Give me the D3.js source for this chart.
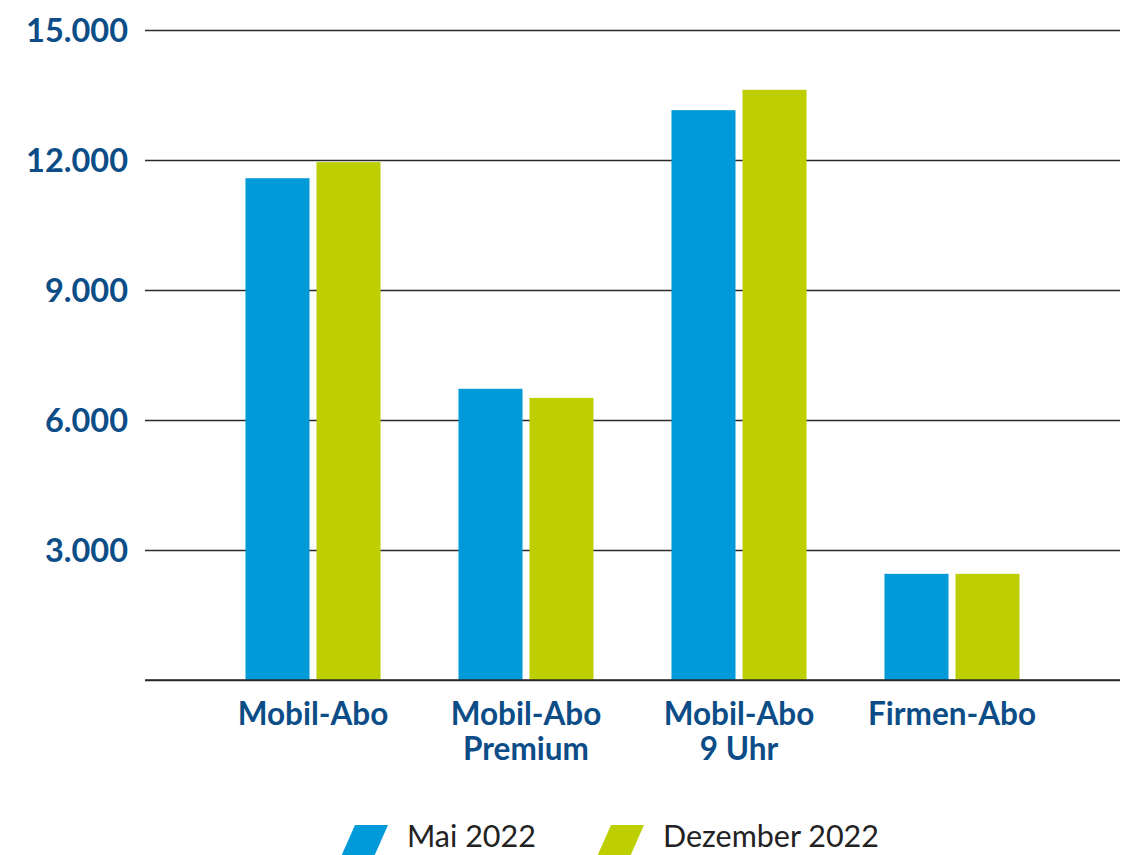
<!DOCTYPE html>
<html>
<head>
<meta charset="utf-8">
<script src="https://cdn.jsdelivr.net/npm/d3@7"></script>
<style>
  html, body { margin: 0; padding: 0; background: #fff; }
  svg { display: block; }
</style>
</head>
<body>
<svg id="chart" width="1138" height="855"></svg>
<script>
// Abo-Kategorien und Werte je Stichtag
const categories = ["Mobil-Abo", "Mobil-Abo Premium", "Mobil-Abo 9 Uhr", "Firmen-Abo"];
const categoryLines = [["Mobil-Abo"], ["Mobil-Abo", "Premium"], ["Mobil-Abo", "9 Uhr"], ["Firmen-Abo"]];
const seriesNames = ["Mai 2022", "Dezember 2022"];
const mai2022 = [11580, 6720, 13150, 2450];
const dezember2022 = [11950, 6510, 13620, 2450];
const yTicks = [0, 3000, 6000, 9000, 12000, 15000];

const colors = ["#009ad9", "#bdcf00"];
const labelBlue = "#0c4d87";

const svg = d3.select("#chart");

const y = d3.scaleLinear().domain([0, 15000]).range([680, 30]);
const x0 = d3.scaleBand().domain(categories).range([206.5, 1058.5])
  .paddingInner(0.366).paddingOuter(0.183);
const x1 = d3.scaleBand().domain(seriesNames).range([0, x0.bandwidth()])
  .paddingInner(0.0986);

const fmt = d => d === 0 ? "" : d3.format(",")(d).replace(/,/g, ".");

// Gitterlinien und Y-Achsenbeschriftung
const yAxis = svg.append("g")
  .attr("transform", "translate(145,0)")
  .call(d3.axisLeft(y).tickValues(yTicks).tickSize(-975).tickPadding(17).tickFormat(fmt));
yAxis.select(".domain").remove();
yAxis.selectAll(".tick line").attr("stroke", "#2a2a2a").attr("stroke-width", 1.3);
yAxis.selectAll(".tick text")
  .attr("fill", labelBlue)
  .attr("font-family", "Lato, sans-serif")
  .attr("font-weight", 700)
  .attr("font-size", 32.5)
  .attr("dy", "0.34em");

// Balken
const rows = categories.map((c, i) => ({ cat: c, values: [mai2022[i], dezember2022[i]] }));
const groups = svg.append("g").selectAll("g").data(rows).join("g")
  .attr("transform", d => `translate(${x0(d.cat)},0)`);
groups.selectAll("rect")
  .data(d => d.values.map((v, j) => ({ key: seriesNames[j], value: v, j })))
  .join("rect")
  .attr("x", d => x1(d.key))
  .attr("width", x1.bandwidth())
  .attr("y", d => y(d.value))
  .attr("height", d => y(0) - y(d.value))
  .attr("fill", d => colors[d.j]);

// Nulllinie über den Balken
svg.append("line")
  .attr("x1", 145).attr("x2", 1120)
  .attr("y1", y(0)).attr("y2", y(0))
  .attr("stroke", "#2a2a2a").attr("stroke-width", 1.3);

// Kategorienbeschriftung
const xAxis = svg.append("g")
  .attr("transform", `translate(0,${y(0)})`)
  .call(d3.axisBottom(x0).tickSize(0).tickFormat(""));
xAxis.select(".domain").remove();
xAxis.selectAll(".tick").each(function(d, i) {
  const t = d3.select(this).select("text")
    .attr("y", 0).attr("dy", null)
    .attr("fill", labelBlue)
    .attr("font-family", "Lato, sans-serif")
    .attr("font-weight", 700)
    .attr("font-size", 31.5)
    .attr("text-anchor", "middle");
  t.selectAll("tspan").data(categoryLines[i]).join("tspan")
    .attr("x", 0)
    .attr("y", (l, k) => 45 + k * 35)
    .text(l => l);
});

// Legende
const legendItems = [
  { name: seriesNames[0], color: colors[0], x: 340 },
  { name: seriesNames[1], color: colors[1], x: 596 }
];
const lg = svg.append("g").selectAll("g").data(legendItems).join("g")
  .attr("transform", d => `translate(${d.x},825)`);
lg.append("path")
  .attr("d", "M15,0 L48,0 L33,34 L0,34 Z")
  .attr("fill", d => d.color);
lg.append("text")
  .attr("x", 67)
  .attr("y", 22)
  .attr("fill", "#222")
  .attr("font-family", "Lato, sans-serif")
  .attr("font-size", 30.5)
  .text(d => d.name);
</script>
</body>
</html>
